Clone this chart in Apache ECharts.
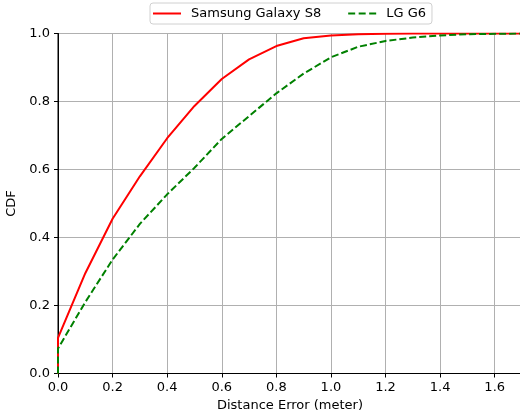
<!DOCTYPE html>
<html><head><meta charset="utf-8">
<script src="https://cdn.jsdelivr.net/npm/echarts@6/dist/echarts.min.js"></script>
<style>html,body{margin:0;padding:0;background:#fff}#c{width:520px;height:417px}</style>
</head><body><div id="c"></div>
<script>
const seriesNames = ['Samsung Galaxy S8', 'LG G6'];
const xS8 = [0, 0, 0.1, 0.2, 0.3, 0.4, 0.5, 0.6, 0.7, 0.8, 0.9, 1.0, 1.1, 1.2, 1.3, 1.4, 1.5, 1.6, 1.7];
const yS8 = [0, 0.105, 0.295, 0.455, 0.58, 0.692, 0.787, 0.866, 0.924, 0.963, 0.986, 0.994, 0.998, 0.999, 1.0, 1.0, 1.0, 1.0, 1.0];
const xG6 = [0, 0, 0.1, 0.2, 0.3, 0.4, 0.5, 0.6, 0.7, 0.8, 0.9, 1.0, 1.1, 1.2, 1.3, 1.4, 1.5, 1.6, 1.7];
const yG6 = [0, 0.0735, 0.21, 0.335, 0.44, 0.527, 0.605, 0.69, 0.757, 0.824, 0.882, 0.93, 0.961, 0.978, 0.988, 0.994, 0.998, 0.999, 1.0];
const xTicks = [0, 0.2, 0.4, 0.6, 0.8, 1.0, 1.2, 1.4, 1.6];
const yTicks = [0, 0.2, 0.4, 0.6, 0.8, 1.0];
const xLabel = 'Distance Error (meter)';
const yLabel = 'CDF';

const font = 'DejaVu Sans';
const solidIcon = 'path://M0,0h28v2h-28z';
const dashIcon = 'path://M0,0h7v2h-7zM10.5,0h7v2h-7zM21,0h7v2h-7z';
const chart = echarts.init(document.getElementById('c'), null, {renderer: 'canvas'});
chart.setOption({
  animation: false,
  textStyle: {fontFamily: font},
  grid: {left: 58, top: 33.5, width: 464, height: 340, show: true, borderColor: '#000', borderWidth: 1,
         backgroundColor: 'transparent', containLabel: false, outerBoundsMode: 'none'},
  legend: {
    left: 150, top: 3,
    padding: [4, 6, 4, 3],
    itemWidth: 28, itemHeight: 2, itemGap: 27,
    backgroundColor: '#fff', borderColor: '#d0d0d0', borderWidth: 1, borderRadius: 3,
    textStyle: {fontFamily: font, fontSize: 13, color: '#000', padding: [0, 0, 0, 5]},
    data: [{name: seriesNames[0], icon: solidIcon}, {name: seriesNames[1], icon: dashIcon}]
  },
  xAxis: {
    type: 'value', min: 0, max: 1.7, interval: 0.2,
    name: xLabel, nameLocation: 'middle', nameGap: 26,
    nameTextStyle: {fontFamily: font, fontSize: 13, color: '#000'},
    axisLine: {show: true, onZero: false, lineStyle: {color: '#000', width: 1}},
    axisTick: {show: true, length: 4, lineStyle: {color: '#000'}},
    axisLabel: {margin: 8, fontFamily: font, fontSize: 13, color: '#000',
      formatter: v => xTicks.some(t => Math.abs(t - v) < 1e-6) ? v.toFixed(1) : ''},
    splitLine: {show: true, lineStyle: {color: '#b0b0b0', width: 1}}
  },
  yAxis: {
    type: 'value', min: 0, max: 1.0, interval: 0.2,
    name: yLabel, nameLocation: 'middle', nameGap: 35,
    nameTextStyle: {fontFamily: font, fontSize: 13, color: '#000'},
    axisLine: {show: true, lineStyle: {color: '#000', width: 1}},
    axisTick: {show: true, length: 4, lineStyle: {color: '#000'}},
    axisLabel: {margin: 8, fontFamily: font, fontSize: 13, color: '#000',
      formatter: v => yTicks.some(t => Math.abs(t - v) < 1e-6) ? v.toFixed(1) : ''},
    splitLine: {show: true, lineStyle: {color: '#b0b0b0', width: 1}}
  },
  series: [
    {name: seriesNames[0], type: 'line', symbol: 'none', clip: true,
     data: xS8.map((x, i) => [x, yS8[i]]),
     lineStyle: {color: '#ff0000', width: 2}, itemStyle: {color: '#ff0000'}, z: 3},
    {name: seriesNames[1], type: 'line', symbol: 'none', clip: true,
     data: xG6.map((x, i) => [x, yG6[i]]),
     lineStyle: {color: '#008000', width: 2, type: [7, 3]}, itemStyle: {color: '#008000'}, z: 4}
  ]
});
</script></body></html>
